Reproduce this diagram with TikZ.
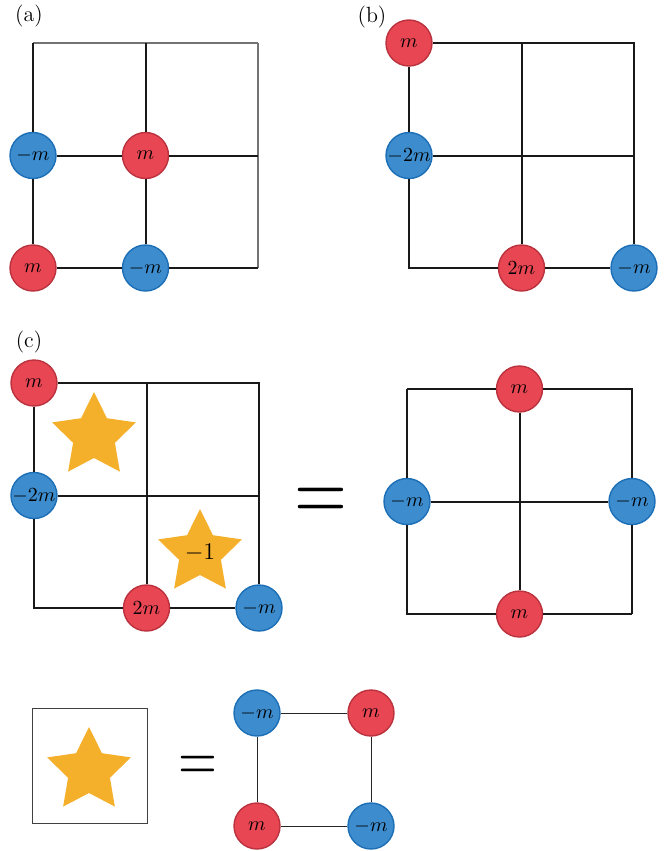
\documentclass[tikz,border=0pt]{standalone}
\usepackage{amsmath}
\usetikzlibrary{shapes.geometric}

\definecolor{massred}{HTML}{E94653}
\definecolor{massredline}{HTML}{B9323D}
\definecolor{massblue}{HTML}{3D8CCD}
\definecolor{massblueline}{HTML}{1C6FB6}
\definecolor{fluxstar}{HTML}{F4AF2B}

\tikzset{
	mass/.style={circle,minimum size=23pt,inner sep=0pt,line width=0.7pt},
	redmass/.style={mass,fill=massred,draw=massredline},
	bluemass/.style={mass,fill=massblue,draw=massblueline},
	bond/.style={line width=1pt,black!90},
	softbond/.style={line width=0.7pt,black!55},
	thinbond/.style={line width=0.5pt,black!85},
	flux/.style={star,star points=5,star point ratio=2,minimum size=44pt,inner sep=0pt,fill=fluxstar},
	panel/.style={font=\fontsize{11}{13}\selectfont},
}

\begin{document}
\begin{tikzpicture}[x=0.5pt,y=-0.5pt]
	\useasboundingbox (0,0) rectangle (670,851);

	% 3x3 lattice points of the four large grids
	\foreach \p/\ox/\oy in {a/33/43, b/409/43, c/34/383, d/407/389}
		\foreach \i in {0,1,2}
			\foreach \j in {0,1,2}
				\coordinate (\p\i\j) at (\ox+112.5*\i,\oy+112.5*\j);

	% (a)
	\node[panel] at (29,16) {(a)};
	\node[bluemass] (a01) at (a01) {$-m$};
	\node[redmass] (a11) at (a11) {$m$};
	\node[redmass] (a02) at (a02) {$m$};
	\node[bluemass] (a12) at (a12) {$-m$};
	\draw[softbond] (a00) -- (a20);
	\draw[softbond] (a20) -- (a22);
	\draw[bond] (a00) -- (a01) -- (a02);
	\draw[bond] (a10) -- (a11) -- (a12);
	\draw[bond] (a01) -- (a11) -- (a21);
	\draw[bond] (a02) -- (a12) -- (a22);

	% (b)
	\node[panel] at (372,17) {(b)};
	\node[redmass] (b00) at (b00) {$m$};
	\node[bluemass] (b01) at (b01) {$-2m$};
	\node[redmass] (b12) at (b12) {$2m$};
	\node[bluemass] (b22) at (b22) {$-m$};
	\draw[bond] (b00) -- (b20) -- (b21) -- (b22);
	\draw[bond] (b00) -- (b01) -- (b02) -- (b12) -- (b22);
	\draw[bond] (b10) -- (b12);
	\draw[bond] (b01) -- (b21);

	% (c)
	\node[panel] at (29,342) {(c)};
	\node[redmass] (c00) at (c00) {$m$};
	\node[bluemass] (c01) at (c01) {$-2m$};
	\node[redmass] (c12) at (c12) {$2m$};
	\node[bluemass] (c22) at (c22) {$-m$};
	\draw[bond] (c00) -- (c20) -- (c21) -- (c22);
	\draw[bond] (c00) -- (c01) -- (c02) -- (c12) -- (c22);
	\draw[bond] (c10) -- (c12);
	\draw[bond] (c01) -- (c21);
	\node[flux] (s1) at (94,436) {};
	\node[flux,font=\fontsize{13}{15}\selectfont] (s2) at (200,553) {$-1$};

	\node (eq1) at (320.5,504) {\scalebox{3.4}[4.4]{$=$}};

	\node[redmass] (d10) at (d10) {$m$};
	\node[bluemass] (d01) at (d01) {$-m$};
	\node[bluemass] (d21) at (d21) {$-m$};
	\node[redmass] (d12) at (d12) {$m$};
	\draw[bond] (d00) -- (d10) -- (d20) -- (d21) -- (d22);
	\draw[bond] (d00) -- (d01) -- (d02) -- (d12) -- (d22);
	\draw[bond] (d10) -- (d12);
	\draw[bond] (d01) -- (d21);

	% single plaquette
	\node[draw=black!75,line width=0.5pt,minimum size=57.5pt,inner sep=0pt] (box) at (89.5,765.5) {};
	\node[flux] (s3) at (89,771) {};
	\node (eq2) at (197.5,768.5) {\scalebox{2.5}[3.3]{$=$}};
	\node[bluemass] (e0) at (257,713) {$-m$};
	\node[redmass] (e1) at (371,713) {$m$};
	\node[redmass] (e2) at (257,826) {$m$};
	\node[bluemass] (e3) at (371,826) {$-m$};
	\draw[thinbond] (e0) -- (e1) -- (e3) -- (e2) -- (e0);
\end{tikzpicture}
\end{document}
